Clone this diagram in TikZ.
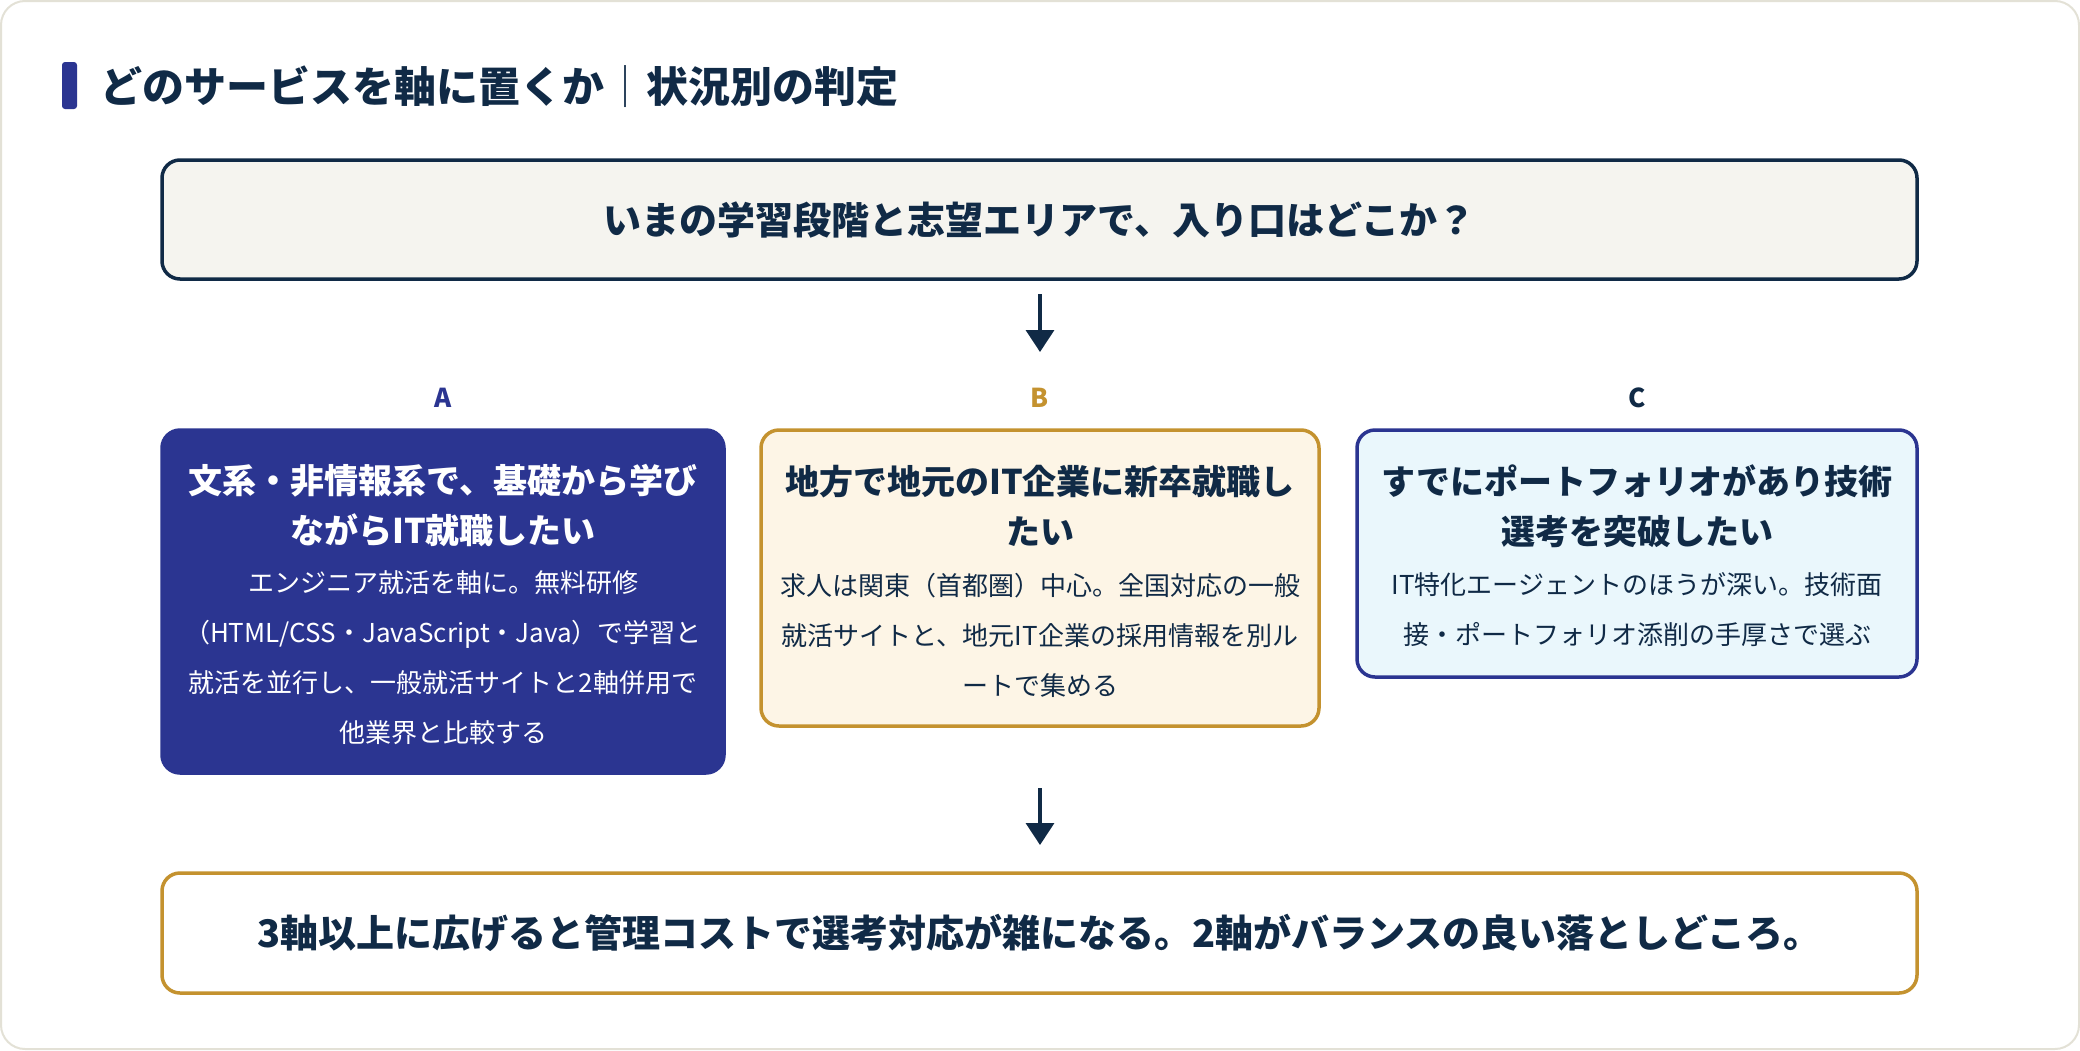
\documentclass[tikz,border=0pt]{standalone}
\usepackage{fontspec}
\setmainfont{Noto Sans CJK JP}
\usetikzlibrary{arrows.meta}
\definecolor{navy}{HTML}{102A46}
\definecolor{dblue}{HTML}{2B3591}
\definecolor{gold}{HTML}{C4922F}
\definecolor{cream}{HTML}{FDF5E6}
\definecolor{lblue}{HTML}{EAF7FC}
\definecolor{qfill}{HTML}{F5F4EF}
\definecolor{frame}{HTML}{E3E1D6}
\tikzset{
  box/.style={rectangle, rounded corners=18pt, line width=3.5pt, inner sep=0pt},
  ttl/.style={align=center, font=\fontsize{34}{50}\selectfont\bfseries},
  bdy/.style={align=center, font=\fontsize{26}{50}\selectfont},
  lbl/.style={font=\fontsize{26}{30}\selectfont\bfseries},
  big/.style={font=\fontsize{38}{44}\selectfont\bfseries, text=navy},
  arr/.style={draw=navy, line width=3.5pt, -{Triangle[width=28pt,length=22pt]}}
}
\begin{document}
\begin{tikzpicture}[x=1pt,y=-1pt]
\useasboundingbox (0,0) rectangle (2080,1050);
\draw[frame, fill=white, line width=2pt, rounded corners=24pt] (1,1) rectangle (2079,1049);
% title
\fill[dblue, rounded corners=3pt] (62,62) rectangle (77,109);
\node[anchor=west, inner sep=0pt, text=navy, font=\fontsize{42}{48}\selectfont\bfseries] (title) at (100,87) {どのサービスを軸に置くか{\mdseries ｜}状況別の判定};
% question
\node[box, draw=navy, fill=qfill, minimum width=1755pt, minimum height=119pt] (q) at (1039.5,219.5) {};
\node[big] (qt) at (q.center) {いまの学習段階と志望エリアで、入り口はどこか？};
\coordinate (a1s) at (1040,294);
\coordinate (a1e) at (1040,352);
\draw[arr] (a1s) -- (a1e);
% labels
\node[lbl, text=dblue] (la) at (443,398) {A};
\node[lbl, text=gold] (lb) at (1040,398) {B};
\node[lbl, text=navy] (lc) at (1637,398) {C};
% boxes
\node[box, draw=dblue, fill=dblue, minimum width=562pt, minimum height=343pt] (ba) at (443,601.5) {};
\node[box, draw=gold, fill=cream, minimum width=558pt, minimum height=296pt] (bb) at (1040,578) {};
\node[box, draw=dblue, fill=lblue, minimum width=560pt, minimum height=247pt] (bc) at (1637,553.5) {};
\node[ttl, text=white] (ta) at (443,506) {文系・非情報系で、基礎から学び\\ながらIT就職したい};
\node[bdy, text=white] (da) at (443,657.5) {エンジニア就活を軸に。無料研修\\（HTML/CSS・JavaScript・Java）で学習と\\就活を並行し、一般就活サイトと2軸併用で\\他業界と比較する};
\node[ttl, text=navy] (tb) at (1040,506) {地方で地元のIT企業に新卒就職し\\たい};
\node[bdy, text=navy] (db) at (1040,635) {求人は関東（首都圏）中心。全国対応の一般\\就活サイトと、地元IT企業の採用情報を別ル\\ートで集める};
\node[ttl, text=navy] (tc) at (1637,506) {すでにポートフォリオがあり技術\\選考を突破したい};
\node[bdy, text=navy] (dc) at (1637,610) {IT特化エージェントのほうが深い。技術面\\接・ポートフォリオ添削の手厚さで選ぶ};
% arrow 2
\coordinate (a2s) at (1040,788);
\coordinate (a2e) at (1040,845);
\draw[arr] (a2s) -- (a2e);
% bottom
\node[box, draw=gold, fill=white, minimum width=1755pt, minimum height=120pt] (fin) at (1039.5,933) {};
\node[big] (fint) at (fin.center) {3軸以上に広げると管理コストで選考対応が雑になる。2軸がバランスの良い落としどころ。};
\end{tikzpicture}
\end{document}
